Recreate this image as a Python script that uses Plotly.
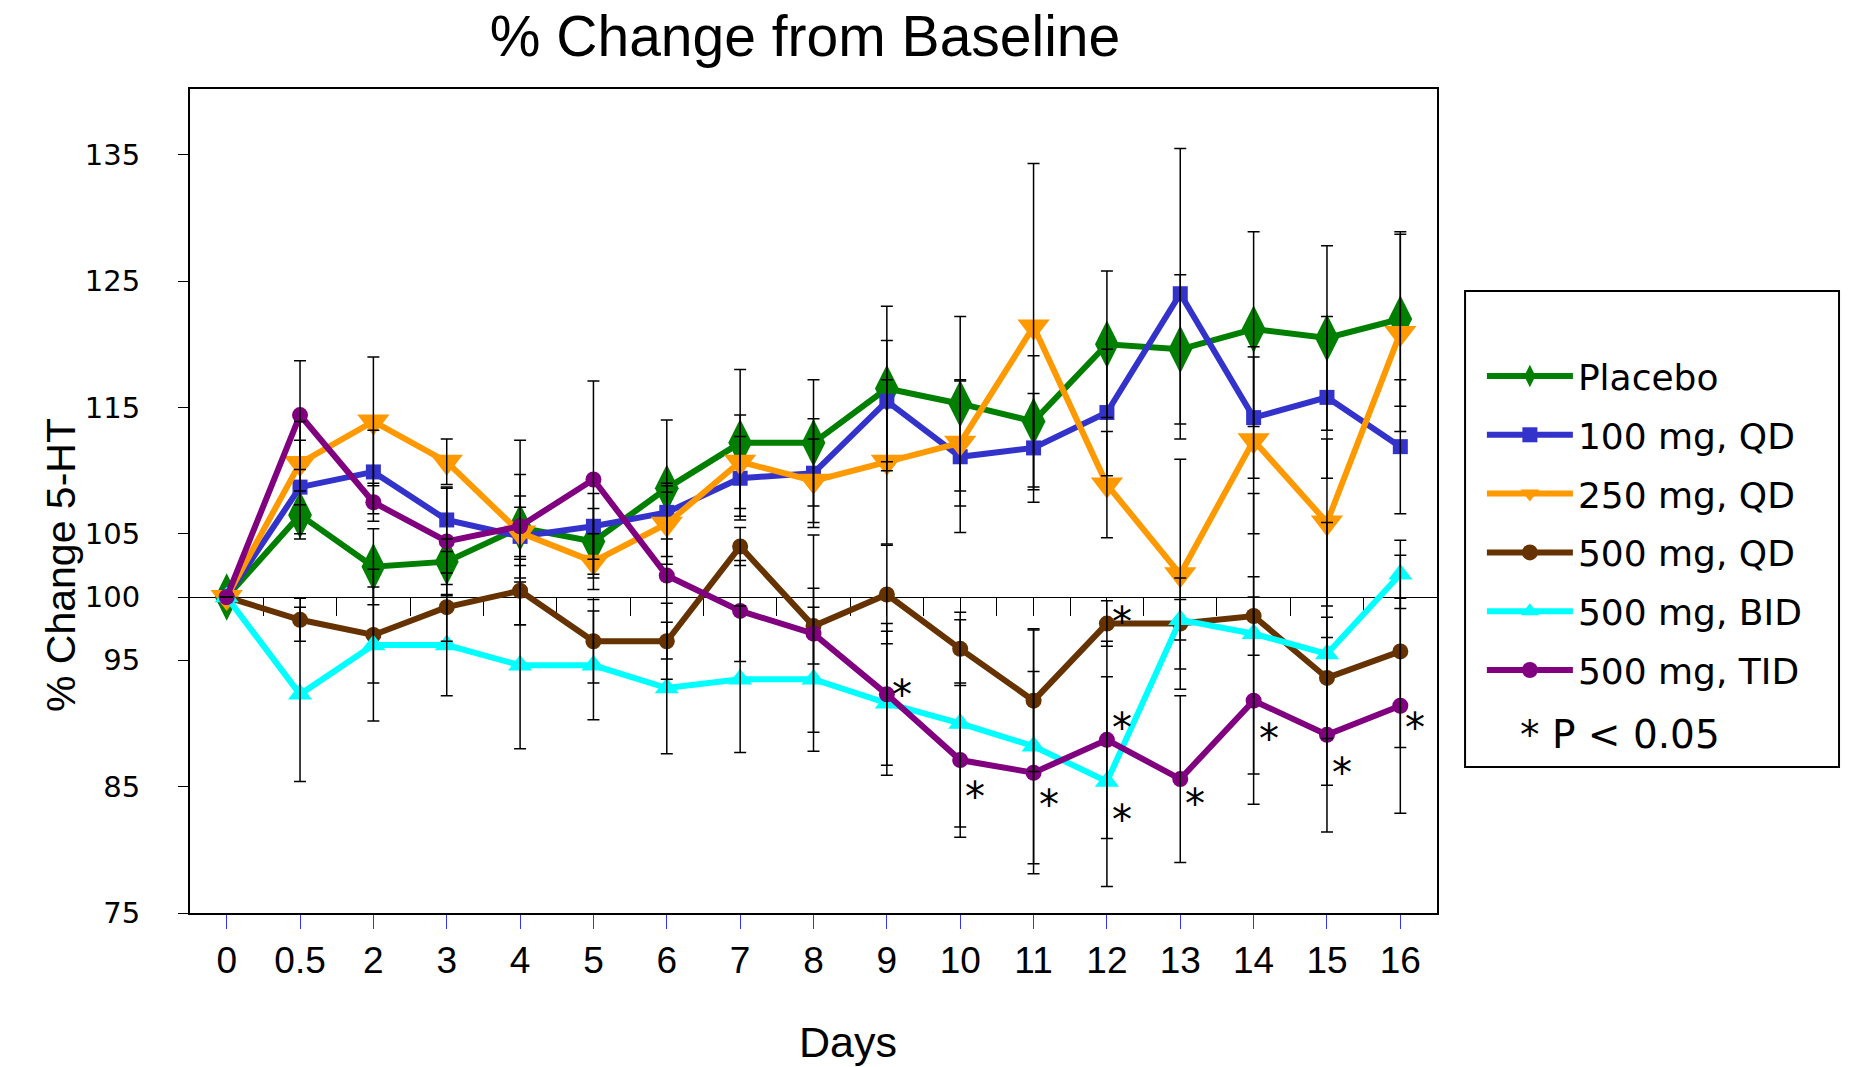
import plotly.graph_objects as go

days = ["0", "0.5", "2", "3", "4", "5", "6", "7", "8", "9", "10", "11", "12", "13", "14", "15", "16"]

placebo = [100, 106.5, 102.4, 102.8, 105.5, 104.4, 108.6, 112.2, 112.2, 116.5, 115.3, 113.9, 120.0, 119.6, 121.2, 120.5, 122.0]
qd100 = [100, 108.7, 109.9, 106.1, 104.8, 105.6, 106.7, 109.4, 109.8, 115.5, 111.1, 111.8, 114.6, 124.0, 114.2, 115.8, 111.9]
qd250 = [100, 110.6, 113.9, 110.7, 105.1, 102.8, 105.8, 110.7, 109.2, 110.7, 112.2, 121.4, 108.9, 101.8, 112.4, 105.9, 120.9]
qd500 = [100, 98.2, 97.0, 99.2, 100.5, 96.5, 96.5, 104.0, 97.7, 100.2, 95.9, 91.8, 97.9, 97.9, 98.5, 93.6, 95.7]
bid500 = [100, 92.3, 96.2, 96.2, 94.6, 94.6, 92.8, 93.5, 93.5, 91.6, 90.0, 88.2, 85.4, 98.2, 97.1, 95.5, 101.8]
tid500 = [100, 114.4, 107.5, 104.4, 105.6, 109.3, 101.7, 98.9, 97.1, 92.3, 87.1, 86.1, 88.7, 85.6, 91.8, 89.1, 91.4]

err_placebo = [0, 1.9, 3.0, 1.8, 2.5, 2.6, 5.4, 5.8, 5.0, 6.5, 6.9, 5.2, 5.8, 5.9, 7.7, 7.3, 6.9]
err_qd100 = [0, 3.7, 3.3, 2.5, 2.3, 2.6, 2.1, 3.3, 4.3, 4.8, 6.0, 4.3, 5.0, 11.5, 4.8, 6.4, 5.3]
err_qd250 = [0, 3.3, 5.1, 1.8, 7.3, 2.2, 3.2, 3.7, 3.3, 6.5, 5.0, 12.9, 4.2, 9.1, 7.4, 6.6, 7.8]
err_qd500 = [0, 1.7, 3.8, 2.7, 2.7, 3.3, 3.0, 1.5, 3.0, 3.9, 2.9, 5.6, 1.8, 3.6, 3.1, 4.8, 7.6]
err_bid500 = [0, 6.9, 6.0, 4.0, 6.6, 4.3, 5.2, 5.8, 5.7, 5.7, 8.2, 9.3, 8.3, 1.6, 11.1, 10.4, 2.7]
err_tid500 = [0, 4.3, 1.5, 4.3, 4.1, 7.8, 6.6, 4.0, 7.8, 5.6, 6.1, 8.0, 7.8, 6.6, 8.2, 7.7, 8.5]

series_names = ["Placebo", "100 mg, QD", "250 mg, QD", "500 mg, QD", "500 mg, BID", "500 mg, TID"]

star_days = ["9", "10", "11", "12", "12", "12", "13", "14", "15", "16"]
star_y = [93.2, 85.1, 84.5, 99.0, 90.6, 83.3, 84.6, 89.7, 87.0, 90.6]

y_ticks = [75, 85, 95, 100, 105, 115, 125, 135]
y_range = [75, 140.2]
baseline = 100
baseline_ticks = [i * 0.5 for i in range(33)]

values = [placebo, qd100, qd250, qd500, bid500, tid500]
errors = [err_placebo, err_qd100, err_qd250, err_qd500, err_bid500, err_tid500]
colors = ["#007f00", "#3333cc", "#ff9900", "#663300", "#00ffff", "#800080"]
symbols = ["diamond-tall", "square", "triangle-down", "circle", "triangle-up", "circle"]
msizes = [34, 15, 28, 16, 21, 16]

fig = go.Figure()

# invisible trace so the baseline axis (x2) is drawn
fig.add_trace(go.Scatter(x=baseline_ticks, y=[baseline] * len(baseline_ticks), xaxis="x2",
                         mode="none", showlegend=False, hoverinfo="skip"))

for name, v, c, s, ms in zip(series_names, values, colors, symbols, msizes):
    fig.add_trace(go.Scatter(
        x=days, y=v, name=name, legendgroup=name,
        mode="lines+markers",
        line=dict(color=c, width=6),
        marker=dict(symbol=s, size=ms, color=c, line=dict(width=0)),
    ))

for name, v, e in zip(series_names, values, errors):
    fig.add_trace(go.Scatter(
        x=days, y=v, mode="markers", showlegend=False, legendgroup=name,
        marker=dict(size=1, color="rgba(0,0,0,0)"),
        error_y=dict(type="data", array=e, visible=True, color="black", thickness=1.5, width=6),
        hoverinfo="skip",
    ))

for d, yv in zip(star_days, star_y):
    fig.add_annotation(x=d, y=yv, text="*", showarrow=False, xshift=15, yshift=-12,
                       font=dict(family="DejaVu Sans", size=40, color="black"))

# axis titles and extra legend note
fig.add_annotation(xref="paper", yref="paper", x=-0.1235, y=0.4223, text="% Change 5-HT",
                   textangle=-90, showarrow=False,
                   font=dict(family="Liberation Sans", size=41, color="black"))
fig.add_annotation(xref="paper", yref="paper", x=0.5277, y=-0.188, text="Days",
                   showarrow=False, font=dict(family="Liberation Sans", size=43, color="black"))
fig.add_annotation(xref="paper", yref="paper", x=1.065, y=0.187, xanchor="left", text="* P &lt; 0.05",
                   showarrow=False, font=dict(family="DejaVu Sans", size=39, color="black"))

fig.add_shape(type="rect", xref="paper", yref="paper", x0=1.0225, x1=1.3224, y0=0.1772, y1=0.7549,
              line=dict(color="black", width=2), fillcolor="rgba(0,0,0,0)")

baseline_pos = (baseline - y_range[0]) / (y_range[1] - y_range[0])

fig.update_layout(
    width=1857, height=1067,
    margin=dict(l=190, r=420, t=89, b=154),
    paper_bgcolor="white", plot_bgcolor="white",
    title=dict(text="% Change from Baseline", x=0.4335, xanchor="center", y=0.966, yanchor="middle",
               font=dict(family="Liberation Sans", size=57, color="black")),
    showlegend=True,
    legend=dict(x=1.036, y=0.688, xanchor="left", yanchor="top",
                font=dict(family="DejaVu Sans", size=36, color="black"),
                bgcolor="rgba(0,0,0,0)", borderwidth=0,
                tracegroupgap=9, itemwidth=86),
    xaxis=dict(type="category", categoryorder="array", categoryarray=days, range=[-0.5, 16.5],
               showline=True, linecolor="black", linewidth=2, mirror=True,
               ticks="outside", ticklen=14, tickcolor="#3333ff", tickwidth=1,
               showgrid=False, zeroline=False, ticklabelstandoff=0,
               tickfont=dict(family="Liberation Sans", size=37, color="black")),
    xaxis2=dict(overlaying="x", anchor="free", position=baseline_pos, range=[-0.5, 16.5],
                showline=True, linecolor="black", linewidth=1, showticklabels=False,
                ticks="outside", ticklen=18, tickcolor="black", tickwidth=1,
                tickvals=baseline_ticks, showgrid=False, zeroline=False,
                layer="below traces"),
    yaxis=dict(range=y_range, tickvals=y_ticks, showline=True, linecolor="black", linewidth=2,
               mirror=True, ticks="outside", ticklen=10, tickcolor="black", showgrid=False,
               zeroline=False, ticklabelstandoff=32,
               tickfont=dict(family="DejaVu Sans", size=29, color="black")),
)

fig.write_html("out.html")
